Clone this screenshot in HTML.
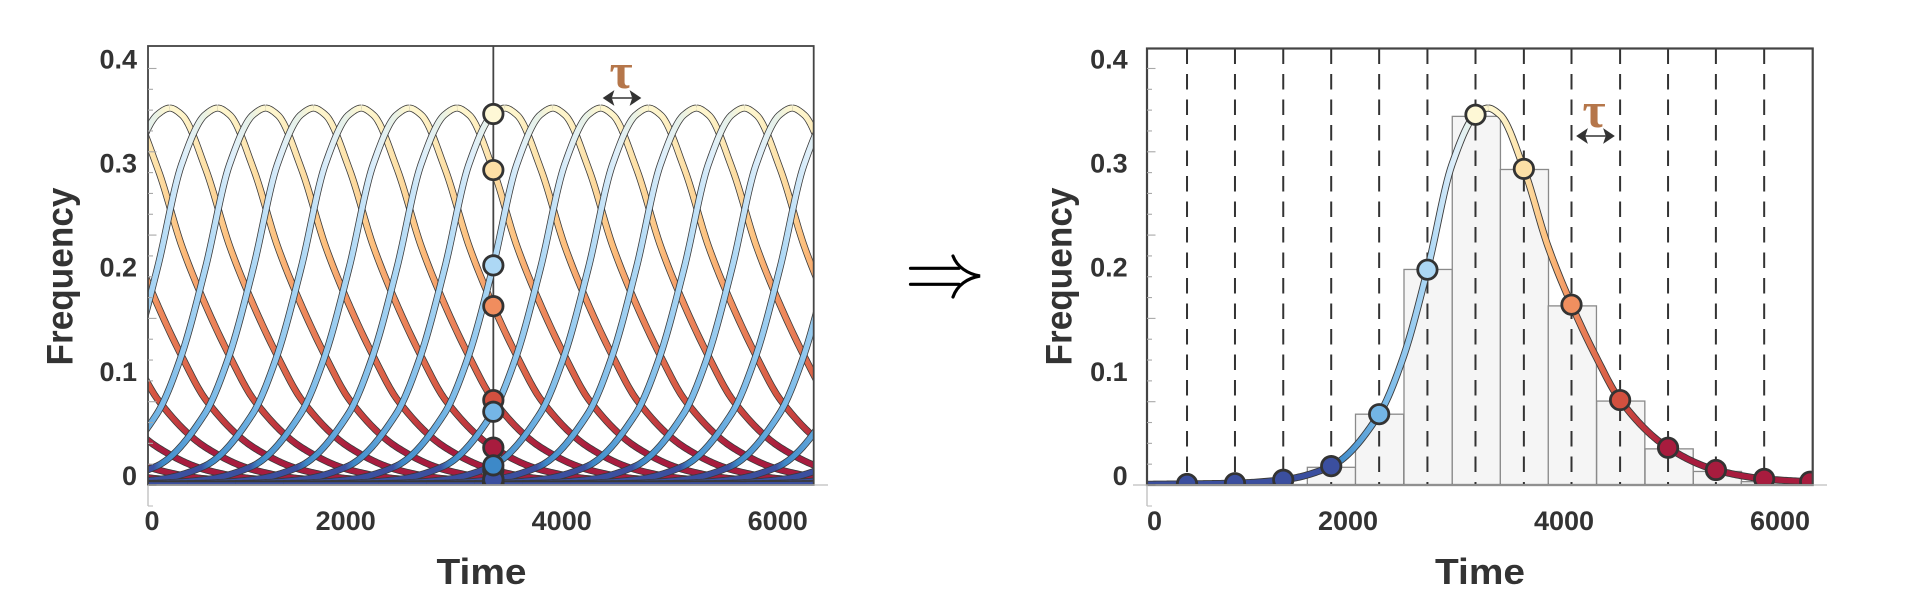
<!DOCTYPE html>
<html lang="en">
<head>
<meta charset="utf-8">
<title>Pulse sampling frequency charts</title>
<style>
html,body{margin:0;padding:0;background:#fff;width:1920px;height:612px;overflow:hidden}
svg{display:block}
text{font-family:"Liberation Sans",sans-serif;font-weight:700;fill:#333}
</style>
</head>
<body>
<svg id="figure" xmlns="http://www.w3.org/2000/svg" width="1920" height="612" viewBox="0 0 1920 612">
  <defs id="defs">
    <clipPath id="clip-left"><rect x="148" y="46" width="665.7" height="439"/></clipPath>
    <clipPath id="clip-right"><rect x="1147" y="48.5" width="665.7" height="436.5"/></clipPath>
  </defs>
  <g id="left-panel"></g>
  <g id="right-panel"></g>
  <g fill="none" stroke="#000" stroke-width="3.2" stroke-linecap="round">
    <path d="M910.5 268.3H959M910.5 284.3H959"/>
    <path d="M953 256C957 267 968 274 980 276C968 278 957 285 953 297" stroke-linejoin="miter"/>
  </g>
</svg>
<script>
// Pulse shape: time relative to the pulse peak, and frequency at that time
const pulseTime = [-9259,-5556,-3704,-2787,-2343,-1898,-1454,-1005,-787,-558,-333,-114,0,111,333,556,778,1006,1222,1667,2111,2556,2981,3889,5556,9259];
const pulseValue = [0,0,0.0003,0.001,0.0017,0.005,0.018,0.0685,0.122,0.208,0.308,0.3557,0.362,0.3555,0.3033,0.229,0.172,0.122,0.0817,0.0358,0.0144,0.0059,0.0032,0.001,0.0002,0];
// Left panel: the peak time of each overlapping pulse, and the sampling time
const leftPeakTimes = [-3619,-3176,-2732,-2289,-1846,-1402,-959,-516,-72,371,814,1258,1701,2144,2588,3031,3474,3918,4361,4804,5248,5691,6134,6578,7021,7464,7908,8351,8794,9238,9681];
const leftSampleTime = 3367;
// Right panel: the single pulse peak, sample times and histogram
const rightPeakTime = 3327;
const rightSampleTimes = [540,984,1431,1875,2319,2766,3211,3659,4100,4550,4994,5437,5884,6310];
const rightDashedTimes = [540,984,1431,1875,2319,2766,3211,3659,4100,4550,4994,5437,5884];
const binStartTimes = [1654,2100,2549,2996,3441,3885,4333,4781,5228,5672];
const binValues = [0.017,0.068,0.207,0.354,0.303,0.172,0.0806,0.0347,0.013,0.0032];
const binWidthTime = 446;
// Axis labels
const xTickLabels = [0,2000,4000,6000];
const yTickLabels = [0,0.1,0.2,0.3,0.4];
const yMinorTicks = [0,0.02,0.04,0.06,0.08,0.1,0.12,0.14,0.16,0.18,0.2,0.22,0.24,0.26,0.28,0.3,0.32,0.34,0.36,0.38,0.4];
// Colour along a pulse, by time relative to the peak
const colorTimes = [-3000,-1480,-1400,-1000,-545,-300,-130,-30,100,340,560,790,1225,1660,3000];
const colorValues = ['#3b4f9f','#3b4f9f','#3d89c8','#74b6e6','#aed8f5','#dfeffa','#e9f2e6','#fdf6d0','#fef5cc','#fddfa5','#fdbe7c','#ef8b5d','#d3503f','#a81c3e','#a81c3e'];

const NS = 'http://www.w3.org/2000/svg';
const Y_ZERO = 485;
const Y_UNIT = 1041.3;
const X_UNIT = 0.108;
const yScale = v => Y_ZERO - v * Y_UNIT;
const xScaleLeft = t => 129.7 + t * X_UNIT;
const xScaleRight = t => 1128.7 + t * X_UNIT;

// Monotone cubic tangents of the pulse
const tangents = (function () {
  const n = pulseTime.length, d = [], m = new Array(n).fill(0);
  for (let i = 0; i < n - 1; i++) d.push((pulseValue[i + 1] - pulseValue[i]) / (pulseTime[i + 1] - pulseTime[i]));
  m[0] = d[0]; m[n - 1] = d[n - 2];
  for (let i = 1; i < n - 1; i++) {
    if (d[i - 1] * d[i] <= 0) { m[i] = 0; continue; }
    const a = pulseTime[i] - pulseTime[i - 1], b = pulseTime[i + 1] - pulseTime[i];
    m[i] = 3 * (a + b) / ((2 * b + a) / d[i - 1] + (b + 2 * a) / d[i]);
  }
  return m;
})();
function pulseAt(t) {
  const n = pulseTime.length;
  if (t <= pulseTime[0]) return pulseValue[0];
  if (t >= pulseTime[n - 1]) return pulseValue[n - 1];
  let i = 0;
  while (t > pulseTime[i + 1]) i++;
  const h = pulseTime[i + 1] - pulseTime[i], s = (t - pulseTime[i]) / h;
  const s2 = s * s, s3 = s2 * s;
  return (2 * s3 - 3 * s2 + 1) * pulseValue[i] + (s3 - 2 * s2 + s) * h * tangents[i] +
         (-2 * s3 + 3 * s2) * pulseValue[i + 1] + (s3 - s2) * h * tangents[i + 1];
}
function hexToRgb(h) { return [1, 3, 5].map(i => parseInt(h.substr(i, 2), 16)); }
function colorAt(t) {
  const n = colorTimes.length;
  if (t <= colorTimes[0]) return colorValues[0];
  if (t >= colorTimes[n - 1]) return colorValues[n - 1];
  let i = 0;
  while (t > colorTimes[i + 1]) i++;
  const s = (t - colorTimes[i]) / (colorTimes[i + 1] - colorTimes[i]);
  const a = hexToRgb(colorValues[i]), b = hexToRgb(colorValues[i + 1]);
  return 'rgb(' + a.map((c, k) => Math.round(c + (b[k] - c) * s)).join(',') + ')';
}
function markerFill(o) {
  if (Math.abs(o) < 200) return '#fef8d6';
  if (o < -1447) return '#3b4f9f';
  if (o < -1380) return '#3d89c8';
  return colorAt(o);
}
function make(tag, attrs, parent) {
  const el = document.createElementNS(NS, tag);
  for (const k in attrs) el.setAttribute(k, attrs[k]);
  parent.appendChild(el);
  return el;
}
function branchPath(peak, from, to, xScale) {
  let d = '';
  const step = 14;
  const dir = to > from ? 1 : -1;
  for (let r = from; dir * (to - r) > 0; r += dir * step) {
    d += (d ? 'L' : 'M') + xScale(peak + r).toFixed(2) + ' ' + yScale(pulseAt(r)).toFixed(2);
  }
  d += 'L' + xScale(peak + to).toFixed(2) + ' ' + yScale(pulseAt(to)).toFixed(2);
  return d;
}
let gradientCount = 0;
function pulseGradient(peak, xScale) {
  const id = 'pulse-gradient-' + (gradientCount++);
  const g = make('linearGradient', { id: id, gradientUnits: 'userSpaceOnUse', x1: xScale(peak - 3000), x2: xScale(peak + 3000), y1: 0, y2: 0 }, document.getElementById('defs'));
  colorTimes.forEach((t, i) => {
    make('stop', { offset: (t + 3000) / 6000, 'stop-color': colorValues[i] }, g);
  });
  return id;
}
function drawBranch(parent, peak, from, to, gradId, xScale, outline, inner) {
  const d = branchPath(peak, from, to, xScale);
  const under = make('path', { d: d, fill: 'none', stroke: '#3a3a3a', 'stroke-width': outline, 'stroke-linejoin': 'round' }, parent);
  
  
  const over = make('path', { d: d, fill: 'none', stroke: 'url(#' + gradId + ')', 'stroke-width': inner, 'stroke-linejoin': 'round' }, parent);
  
  
}
function drawMarker(parent, x, v, fill) {
  const c = make('ellipse', { cx: x, cy: yScale(v), rx: 9.7, ry: 9.7, fill: fill, stroke: '#333', 'stroke-width': 2.8 }, parent);
  
  
}
function drawAxes(parent, o) {
  const frame = make('rect', { x: o.left, y: o.top, width: o.right - o.left, height: Y_ZERO - o.top, fill: 'none', stroke: '#444', 'stroke-width': o.frameWidth }, parent);
  
  
  const base = make('path', { d: 'M' + o.baseFrom + ' ' + Y_ZERO + 'H' + o.baseTo + 'M' + o.left + ' ' + Y_ZERO + 'V506', stroke: '#bdbdbd', 'stroke-width': 1.3, fill: 'none' }, parent);
  
  
  yMinorTicks.forEach((v, i) => {
    const long = i % 4 === 0;
    const t = make('line', { x1: o.left, x2: o.left + (long ? 8.5 : 5), y1: yScale(v), y2: yScale(v), stroke: '#a8a8a8', 'stroke-width': 1.1 }, parent);
    
    
  });
  const bt = make('line', { x1: o.left, x2: o.left + 5, y1: 506, y2: 506, stroke: '#bdbdbd', 'stroke-width': 1.1 }, parent);
  
  
  yTickLabels.forEach(v => {
    const t = make('text', { x: o.yLabelRight, y: yScale(v), 'text-anchor': 'end', 'font-size': 27 }, parent);
    
    
    t.textContent = v === 0 ? '0' : v.toFixed(1);
  });
  xTickLabels.forEach(v => {
    const cx = Math.max(o.xLabelOrigin + v * X_UNIT, o.xLabelMin);
    const t = make('text', { x: cx, y: 530, 'text-anchor': 'middle', 'font-size': 27 }, parent);
    
    
    t.textContent = String(v);
  });
  const xt = make('text', { x: o.timeX, y: 584, 'font-size': 36, textLength: 90, lengthAdjust: 'spacingAndGlyphs' }, parent);
  
  
  xt.textContent = 'Time';
  const yt = make('text', { x: 0, y: 0, 'font-size': 37.5, textLength: 178, lengthAdjust: 'spacingAndGlyphs', 'text-anchor': 'middle', transform: 'translate(' + o.freqX + ' 276.5) rotate(-90)' }, parent);
  
  
  yt.textContent = 'Frequency';
}
function drawTau(parent, cx, baseY, arrowY, x0, x1) {
  const t = make('text', { x: cx, y: baseY, 'text-anchor': 'middle', 'font-size': 50, style: 'font-family:\'Liberation Serif\',serif;font-weight:700;fill:#b5764a' }, parent);
  
  
  t.textContent = 'τ';
  const a = make('path', { d: 'M' + (x0 + 8) + ' ' + arrowY + 'H' + (x1 - 8) + 'M' + x0 + ' ' + arrowY + 'l9 -6l-2 6l2 6zM' + x1 + ' ' + arrowY + 'l-9 -6l2 6l-2 6z', fill: '#333', stroke: '#333', 'stroke-width': 1.5 }, parent);
  
  
}

// ---------- left panel ----------
(function () {
  const panel = document.getElementById('left-panel');
  const plot = make('g', { 'clip-path': 'url(#clip-left)' }, panel);
  
  
  const guide = make('line', { x1: xScaleLeft(leftSampleTime), x2: xScaleLeft(leftSampleTime), y1: 46, y2: Y_ZERO, stroke: '#444', 'stroke-width': 1.8 }, plot);
  
  
  const ids = leftPeakTimes.map(p => pulseGradient(p, xScaleLeft));
  leftPeakTimes.forEach((p, i) => drawBranch(plot, p, 0, 5600, ids[i], xScaleLeft, 7, 5.4));
  leftPeakTimes.forEach((p, i) => drawBranch(plot, p, -5600, 0, ids[i], xScaleLeft, 7, 5.4));
  const offsets = leftPeakTimes.map(p => leftSampleTime - p).filter(o => Math.abs(o) < 3500);
  const falling = offsets.filter(o => o >= 0).sort((a, b) => b - a);
  const rising = offsets.filter(o => o < 0).sort((a, b) => a - b);
  falling.concat(rising).forEach(o => drawMarker(plot, xScaleLeft(leftSampleTime), pulseAt(o), markerFill(o)));
  drawAxes(panel, { left: 148, right: 813.7, top: 46, frameWidth: 1.8, baseFrom: 148, baseTo: 828, yLabelRight: 137, xLabelOrigin: 129.7, xLabelMin: 152, timeX: 436.5, freqX: 72.5 });
  drawTau(panel, 621, 88, 98, 604, 640);
})();

// ---------- right panel ----------
(function () {
  const panel = document.getElementById('right-panel');
  const plot = make('g', { 'clip-path': 'url(#clip-right)' }, panel);
  
  
  binStartTimes.forEach((t, i) => {
    const x0 = xScaleRight(t), x1 = xScaleRight(t + binWidthTime);
    const bar = make('rect', { x: x0, y: yScale(binValues[i]), width: x1 - x0, height: yScale(0) - yScale(binValues[i]), fill: '#f5f5f5', stroke: '#8a8a8a', 'stroke-width': 1.3 }, plot);
    
    
  });
  rightDashedTimes.forEach(t => {
    const l = make('line', { x1: xScaleRight(t), x2: xScaleRight(t), y1: 48.5, y2: Y_ZERO, stroke: '#333', 'stroke-width': 2, 'stroke-dasharray': '15.5 10' }, plot);
    
    
  });
  const id = pulseGradient(rightPeakTime, xScaleRight);
  drawBranch(plot, rightPeakTime, 0, 5600, id, xScaleRight, 7.2, 5.4);
  drawBranch(plot, rightPeakTime, -5600, 0, id, xScaleRight, 7.2, 5.4);
  rightSampleTimes.forEach(t => drawMarker(plot, xScaleRight(t), pulseAt(t - rightPeakTime), markerFill(t - rightPeakTime)));
  drawAxes(panel, { left: 1147, right: 1812.7, top: 48.5, frameWidth: 2.2, baseFrom: 1133, baseTo: 1827, yLabelRight: 1127.7, xLabelOrigin: 1132, xLabelMin: 1154.5, timeX: 1435, freqX: 72.5 + 999 });
  drawTau(panel, 1594, 127, 136, 1577.5, 1613.5);
})();
</script>
</body>
</html>
